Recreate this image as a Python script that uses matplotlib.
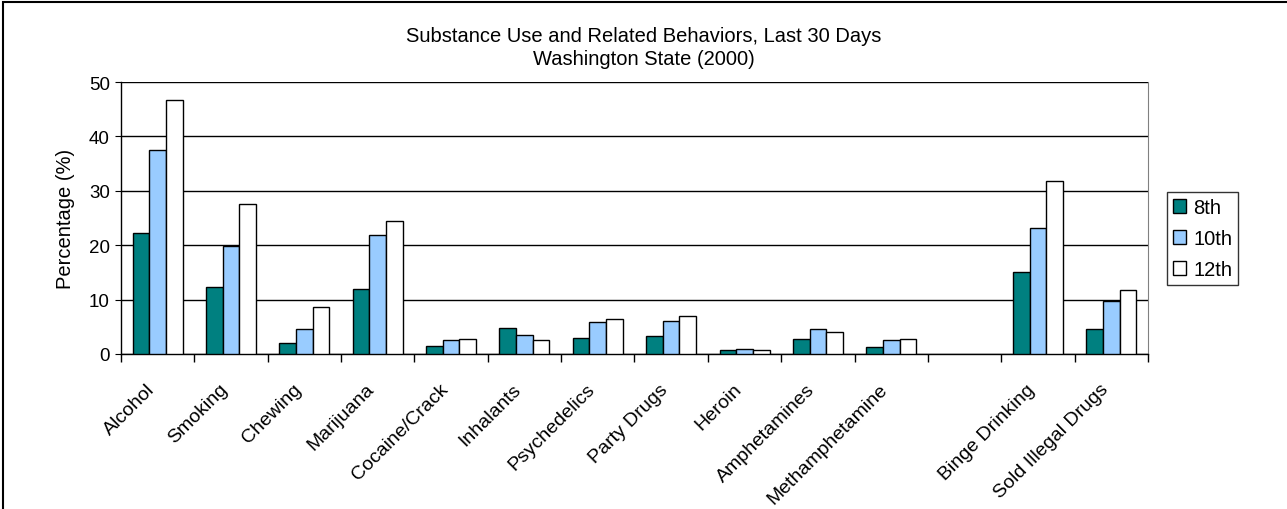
import numpy as np
import matplotlib.pyplot as plt
import matplotlib.transforms as mtransforms
from matplotlib.patches import Rectangle

plt.rcParams['font.family'] = ['Liberation Sans', 'DejaVu Sans']

# Data
categories = ['Alcohol', 'Smoking', 'Chewing', 'Marijuana', 'Cocaine/Crack',
              'Inhalants', 'Psychedelics', 'Party Drugs', 'Heroin',
              'Amphetamines', 'Methamphetamine', '', 'Binge Drinking',
              'Sold Illegal Drugs']
grade8 = [22.2, 12.4, 2.0, 12.0, 1.5, 4.8, 3.0, 3.3, 0.8, 2.8, 1.3, 0, 15.0, 4.6]
grade10 = [37.5, 19.9, 4.5, 21.9, 2.5, 3.5, 5.9, 6.1, 1.0, 4.6, 2.6, 0, 23.2, 9.7]
grade12 = [46.7, 27.5, 8.6, 24.4, 2.7, 2.5, 6.4, 6.9, 0.7, 4.1, 2.8, 0, 31.9, 11.8]
series = ['8th', '10th', '12th']
colors = ['#008080', '#99CCFF', '#FFFFFF']

fig = plt.figure(figsize=(12.87, 5.10), dpi=100)
ax = fig.add_axes([0.094, 0.304, 0.798, 0.533])

x = np.arange(len(categories))
w = 0.227
for i, (vals, lab, c) in enumerate(zip([grade8, grade10, grade12], series, colors)):
    mask = np.array(vals) > 0
    ax.bar(x[mask] + (i - 1) * w, np.array(vals)[mask], width=w, color=c,
           edgecolor='black', linewidth=1.0, label=lab, zorder=3)

ax.set_xlim(-0.5, len(categories) - 0.5)
ax.set_ylim(0, 50)
ax.set_yticks(range(0, 51, 10))
ax.yaxis.grid(True, color='black', linewidth=1.0, zorder=0)
ax.set_ylabel('Percentage (%)', fontsize=14.5, labelpad=10)
ax.tick_params(axis='y', labelsize=13.5, length=4, direction='out', pad=4)

ax.set_xticks(x)
ax.set_xticklabels(categories, rotation=45, ha='right', rotation_mode='anchor', fontsize=14)
ax.set_xticks(np.arange(-0.5, len(categories)), minor=True)
ax.tick_params(axis='x', which='major', length=0, pad=19)
ax.tick_params(axis='x', which='minor', length=6, width=1.0)
shift = mtransforms.ScaledTranslation(-12 / 100, 0, fig.dpi_scale_trans)
for t in ax.get_xticklabels():
    t.set_transform(t.get_transform() + shift)

ax.spines['top'].set_visible(False)
ax.spines['right'].set_color('#808080')
ax.spines['left'].set_linewidth(1.0)
ax.spines['bottom'].set_linewidth(1.0)

fig.text(0.5, 0.929, 'Substance Use and Related Behaviors, Last 30 Days',
         ha='center', va='center', fontsize=14.5)
fig.text(0.5, 0.884, 'Washington State (2000)', ha='center', va='center', fontsize=14.5)

leg = ax.legend(loc='upper left', bbox_to_anchor=(1.0185, 0.596), fontsize=14.5,
                frameon=True, fancybox=False, edgecolor='black', borderaxespad=0,
                handlelength=0.65, handleheight=0.65, handletextpad=0.35,
                borderpad=0.3, labelspacing=0.6)
leg.get_frame().set_linewidth(1.0)

fig.patches.append(Rectangle((0.002, -0.01), 1.2, 1.005, transform=fig.transFigure,
                             fill=False, edgecolor='black', linewidth=1.5))

fig.savefig('out.png', dpi=100)
